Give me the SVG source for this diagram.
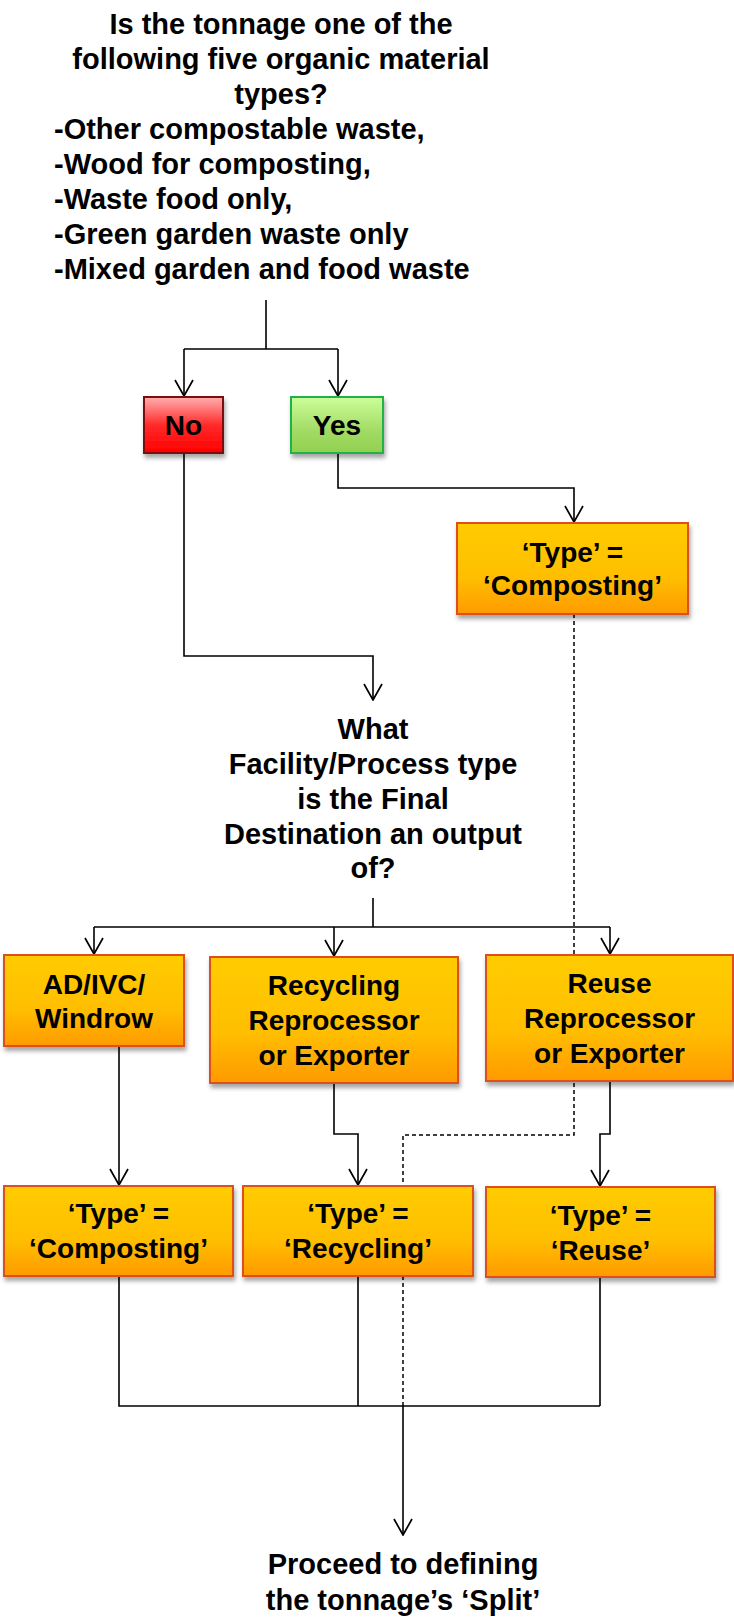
<svg xmlns="http://www.w3.org/2000/svg" width="734" height="1617" viewBox="0 0 734 1617">
<style>
  text { font-family: "Liberation Sans", Arial, sans-serif; font-weight: bold; fill: #000; }
  .q { font-size: 29px; }
  .c { text-anchor: middle; }
  .bt { font-size: 28px; text-anchor: middle; }
  .ln { fill: none; stroke: #000; stroke-width: 1.6; }
  .dash { fill: none; stroke: #000; stroke-width: 1.5; stroke-dasharray: 4 3; }
  .org { fill: url(#gOrg); stroke: #DD4F1A; stroke-width: 2; filter: url(#sh); }
  .no { fill: url(#gRed); stroke: #7A0A0A; stroke-width: 2; filter: url(#sh); }
  .yes { fill: url(#gGrn); stroke: #22B04B; stroke-width: 2; filter: url(#sh); }
</style>
<defs>
  <linearGradient id="gOrg" x1="0" y1="0" x2="0" y2="1">
    <stop offset="0" stop-color="#FFCC00"/>
    <stop offset="0.6" stop-color="#FFBE00"/>
    <stop offset="1" stop-color="#FF9A00"/>
  </linearGradient>
  <linearGradient id="gRed" x1="0" y1="0" x2="0" y2="1">
    <stop offset="0" stop-color="#FFB0B0"/>
    <stop offset="0.5" stop-color="#FF2A2A"/>
    <stop offset="1" stop-color="#FF0000"/>
  </linearGradient>
  <linearGradient id="gGrn" x1="0" y1="0" x2="0" y2="1">
    <stop offset="0" stop-color="#CCFF99"/>
    <stop offset="0.6" stop-color="#A2DB64"/>
    <stop offset="1" stop-color="#92D050"/>
  </linearGradient>
  <filter id="sh" x="-10%" y="-10%" width="130%" height="140%">
    <feDropShadow dx="1.5" dy="4" stdDeviation="2.2" flood-color="#000" flood-opacity="0.35"/>
  </filter>
  <marker id="arr" viewBox="0 0 18 22" refX="17" refY="11" markerWidth="18" markerHeight="22" markerUnits="userSpaceOnUse" orient="auto">
    <path d="M1,2 L17,11 L1,20" fill="none" stroke="#000" stroke-width="1.7"/>
  </marker>
</defs>

<g id="connectors">
  <path class="dash" d="M574 614 V1135 H403 V1406"/>
  <path class="ln" d="M266 300 V349 M184 349 H338"/>
  <path class="ln" d="M184 349 V396" marker-end="url(#arr)"/>
  <path class="ln" d="M338 349 V396" marker-end="url(#arr)"/>
  <path class="ln" d="M338 453 V488 H574 V522" marker-end="url(#arr)"/>
  <path class="ln" d="M184 453 V656 H373 V700" marker-end="url(#arr)"/>
  <path class="ln" d="M373 898 V927 M94 927 H610"/>
  <path class="ln" d="M94 927 V954" marker-end="url(#arr)"/>
  <path class="ln" d="M334 927 V956" marker-end="url(#arr)"/>
  <path class="ln" d="M610 927 V954" marker-end="url(#arr)"/>
  <path class="ln" d="M119 1046 V1185" marker-end="url(#arr)"/>
  <path class="ln" d="M334 1083 V1134 H358 V1185" marker-end="url(#arr)"/>
  <path class="ln" d="M610 1081 V1134 H600 V1186" marker-end="url(#arr)"/>
  <path class="ln" d="M119 1276 V1406 H600 M358 1276 V1406 M600 1277 V1406"/>
  <path class="ln" d="M403 1406 V1535" stroke-width="2.5" marker-end="url(#arr)"/>
</g>

<g id="q1">
  <text class="q c" x="281" y="34">Is the tonnage one of the</text>
  <text class="q c" x="281" y="69">following five organic material</text>
  <text class="q c" x="281" y="104">types?</text>
  <text class="q" x="54" y="139">-Other compostable waste,</text>
  <text class="q" x="54" y="174">-Wood for composting,</text>
  <text class="q" x="54" y="209">-Waste food only,</text>
  <text class="q" x="54" y="244">-Green garden waste only</text>
  <text class="q" x="54" y="279">-Mixed garden and food waste</text>
</g>

<g id="no">
  <rect class="no" x="144" y="397" width="79" height="56"/>
  <text class="bt" x="183.5" y="435">No</text>
</g>

<g id="yes">
  <rect class="yes" x="291" y="397" width="92" height="56"/>
  <text class="bt" x="337" y="435">Yes</text>
</g>

<g id="composting1">
  <rect class="org" x="457" y="523" width="231" height="91"/>
  <text class="bt" x="572.5" y="562">‘Type’ =</text>
  <text class="bt" x="572.5" y="595">‘Composting’</text>
</g>

<g id="q2">
  <text class="q c" x="373" y="739">What</text>
  <text class="q c" x="373" y="774">Facility/Process type</text>
  <text class="q c" x="373" y="809">is the Final</text>
  <text class="q c" x="373" y="844">Destination an output</text>
  <text class="q c" x="373" y="878">of?</text>
</g>

<g id="adivc">
  <rect class="org" x="4" y="955" width="180" height="91"/>
  <text class="bt" x="94" y="994">AD/IVC/</text>
  <text class="bt" x="94" y="1028">Windrow</text>
</g>

<g id="recycling">
  <rect class="org" x="210" y="957" width="248" height="126"/>
  <text class="bt" x="334" y="995">Recycling</text>
  <text class="bt" x="334" y="1030">Reprocessor</text>
  <text class="bt" x="334" y="1065">or Exporter</text>
</g>

<g id="reuse">
  <rect class="org" x="486" y="955" width="247" height="126"/>
  <text class="bt" x="609.5" y="993">Reuse</text>
  <text class="bt" x="609.5" y="1028">Reprocessor</text>
  <text class="bt" x="609.5" y="1063">or Exporter</text>
</g>

<g id="composting2">
  <rect class="org" x="4" y="1186" width="229" height="90"/>
  <text class="bt" x="118.5" y="1223">‘Type’ =</text>
  <text class="bt" x="118.5" y="1258">‘Composting’</text>
</g>

<g id="typerecycling">
  <rect class="org" x="243" y="1186" width="230" height="90"/>
  <text class="bt" x="358" y="1223">‘Type’ =</text>
  <text class="bt" x="358" y="1258">‘Recycling’</text>
</g>

<g id="typereuse">
  <rect class="org" x="486" y="1187" width="229" height="90"/>
  <text class="bt" x="600.5" y="1225">‘Type’ =</text>
  <text class="bt" x="600.5" y="1260">‘Reuse’</text>
</g>

<g id="final">
  <text class="q c" x="403" y="1574">Proceed to defining</text>
  <text class="q c" x="403" y="1610">the tonnage’s ‘Split’</text>
</g>
</svg>
